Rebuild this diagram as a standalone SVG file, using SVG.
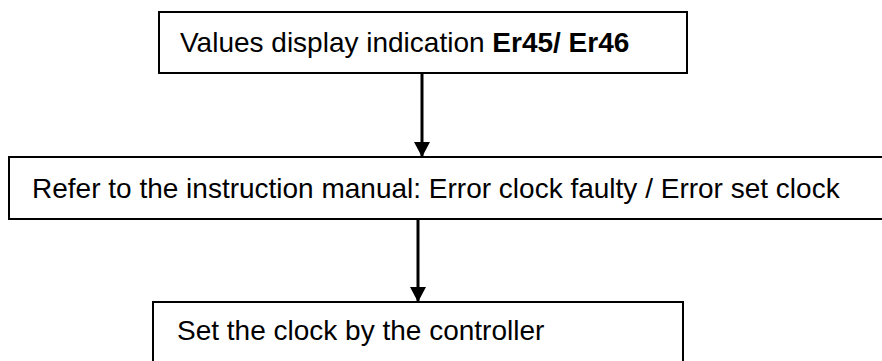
<svg xmlns="http://www.w3.org/2000/svg" width="882" height="361" viewBox="0 0 882 361">
<style>
.box{fill:#fff;stroke:#000;stroke-width:2}
.t{font-family:"Liberation Sans",Arial,sans-serif;font-size:28px;fill:#000}
.b{font-weight:bold}
.c{stroke:#000;stroke-width:3;fill:none}
</style>
<defs>
<marker id="ah" markerUnits="userSpaceOnUse" markerWidth="15" markerHeight="16" viewBox="0 0 15 16" refX="15" refY="8" orient="auto">
<path d="M0,0 L15,8 L0,16 Z" fill="#000"/>
</marker>
</defs>
<rect width="882" height="361" fill="#fff"/>
<g id="node1">
<rect class="box" x="159" y="12" width="528" height="61"/>
<text class="t" x="180" y="52">Values display indication <tspan class="b">Er45/ Er46</tspan></text>
</g>
<g id="node2">
<rect class="box" x="9" y="157" width="885" height="62"/>
<text class="t" x="32" y="198">Refer to the instruction manual: Error clock faulty / Error set clock</text>
</g>
<g id="node3">
<rect class="box" x="153" y="302" width="530" height="70"/>
<text class="t" x="177" y="340">Set the clock by the controller</text>
</g>
<g id="connectors">
<line class="c" x1="422" y1="73" x2="422" y2="157" marker-end="url(#ah)"/>
<line class="c" x1="418" y1="219" x2="418" y2="302" marker-end="url(#ah)"/>
</g>
</svg>
